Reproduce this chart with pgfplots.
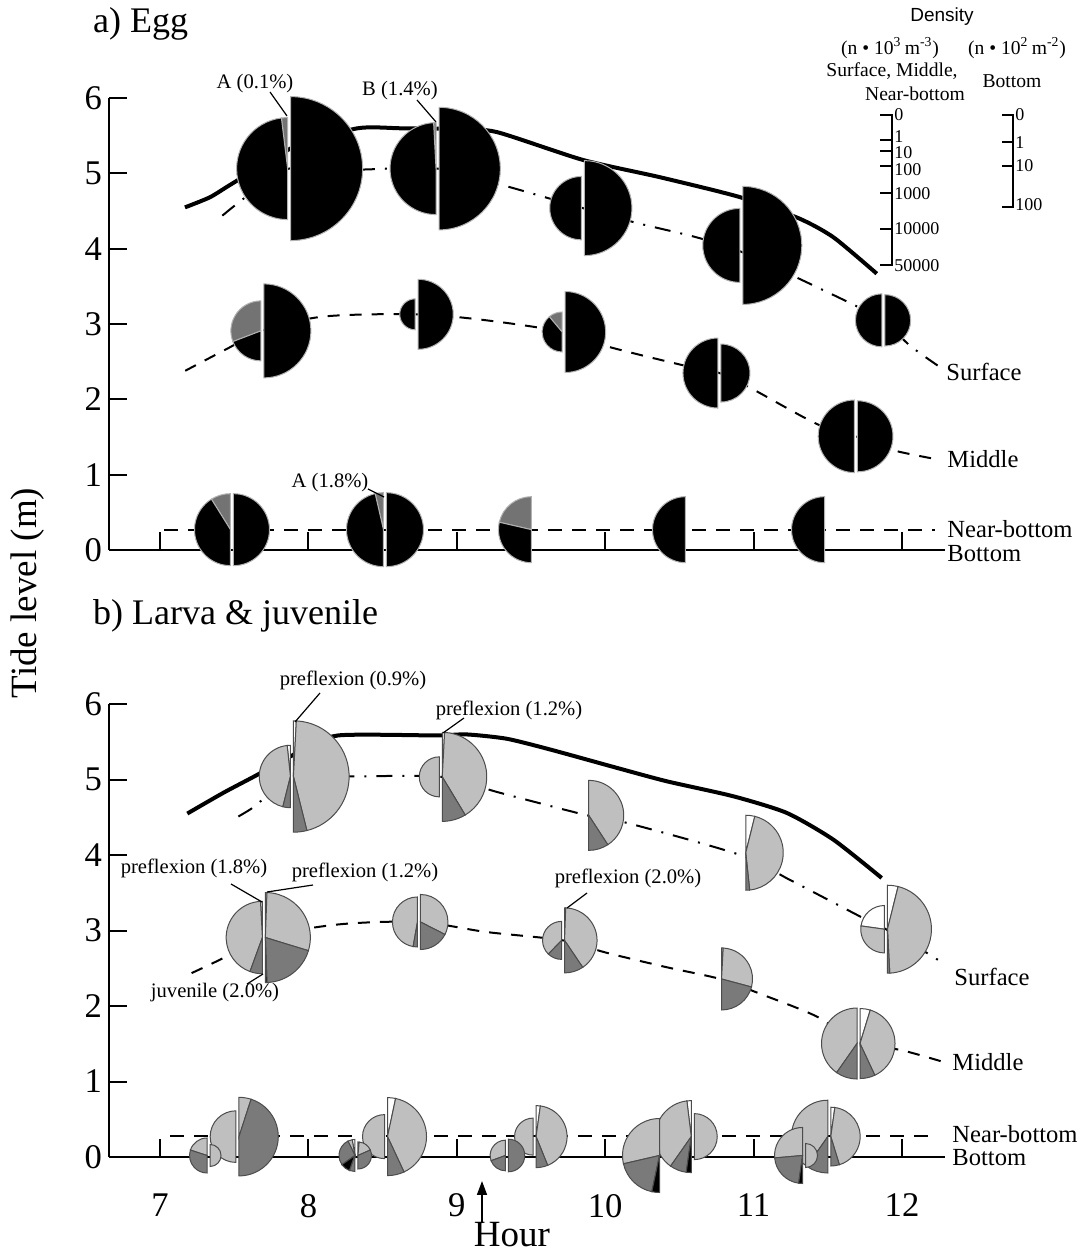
\documentclass[border=0pt]{standalone}
\usepackage{fontspec}
\setmainfont{Liberation Serif}
\newfontfamily\sansf{Liberation Sans}
\usepackage{pgfplots}
\pgfplotsset{compat=1.18}
\usetikzlibrary{arrows.meta}
\newcommand\fs[1]{\fontsize{#1}{#1}\selectfont}
\pgfplotsset{
 panel/.style={
  scale only axis, width=418pt, axis lines*=left,
  xmin=6.6563, xmax=12.2898, ymin=0, ymax=6,
  xtick={7,...,12}, ytick={0,...,6}, tick align=inside, major tick length=9pt,
  axis line style={line width=1pt}, every tick/.style={line width=1pt, black},
  clip=false, tick label style={font=\fs{17.3}},
  /pgf/number format/assume math mode=true, anchor=south west,
 },
 pies/.style={
  scatter, only marks, mark=*, mark size=0pt,
  mark options={draw opacity=0, fill opacity=0},
  point meta=y,
  visualization depends on={value \thisrow{r} \as \wR},
  visualization depends on={value \thisrow{a} \as \wA},
  visualization depends on={value \thisrow{b} \as \wB},
  visualization depends on={value \thisrow{g} \as \wG},
  visualization depends on={value \thisrow{s} \as \wS},
  scatter/@pre marker code/.append code={%
    \pgfmathsetmacro\myR{0.5*\wR}%
    \pgfmathsetmacro\myS{0.75*\wS}%
    \filldraw[fill=black!\wG, draw=#1, line width=0.5pt, fill opacity=1, draw opacity=1] (\myS pt,0pt) -- ++(\wA:\myR pt) arc[start angle=\wA, end angle=\wB, radius=\myR pt] -- cycle;
  },
 },
 tide/.style={line width=2pt, smooth, tension=0.4},
 surf/.style={line width=1pt, smooth, tension=0.5, dash pattern=on 8pt off 5pt on 1pt off 5pt},
 midl/.style={line width=1pt, smooth, tension=0.5, dash pattern=on 6pt off 5pt},
 nbot/.style={line width=1pt, dash pattern=on 7pt off 5pt},
}
\begin{document}
\begin{tikzpicture}
\useasboundingbox (0,0) rectangle (540.5pt,629.5pt);
% ---------------- panel a ----------------
\begin{axis}[panel, height=225.9pt, at={(54.5pt,354.5pt)}, xticklabels={}]
\addplot[tide] coordinates {(7.168,4.55)(7.337,4.685)(7.49,4.87)(7.9,5.35)(8.33,5.60)(8.63,5.60)(9.0,5.59)(9.27,5.55)(9.85,5.18)(10.37,4.95)(10.91,4.685)(11.31,4.40)(11.54,4.15)(11.83,3.67)};
\addplot[surf] coordinates {(7.42,4.44)(7.6,4.72)(7.87,5.065)(8.3,5.05)(8.87,5.065)(9.3,4.85)(9.85,4.54)(10.22,4.34)(10.62,4.15)(10.917,3.96)(11.31,3.6)(11.66,3.27)(11.875,3.05)(12.05,2.72)(12.24,2.45)};
\addplot[midl] coordinates {(7.17,2.38)(7.45,2.67)(7.69,2.91)(8.1,3.1)(8.73,3.13)(9.2,3.05)(9.72,2.895)(10.02,2.70)(10.51,2.46)(10.77,2.35)(10.99,2.14)(11.43,1.67)(11.69,1.51)(11.93,1.33)(12.22,1.21)};
\addplot[nbot] coordinates {(7.03,0.26)(12.22,0.26)};
\addplot[pies=black!30] table {
x y r a b g s
7.87 5.065 51 90 97 55 -1
7.87 5.065 51 97 270 100 -1
7.87 5.065 72 90 -90 100 1
8.87 5.065 46 90 93 55 -1
8.87 5.065 46 93 270 100 -1
8.87 5.065 61.3 90 -90 100 1
9.85 4.54 31.7 90 270 100 -1
9.85 4.54 47.5 90 -90 100 1
10.917 4.045 37 90 270 100 -1
10.917 4.045 59 90 -90 100 1
11.875 3.05 26.5 90 270 100 -1
11.875 3.05 25.7 90 -90 100 1
7.69 2.91 30 90 201 55 -1
7.69 2.91 30 201 270 100 -1
7.69 2.91 47 90 -90 100 1
8.73 3.13 15.5 90 270 100 -1
8.73 3.13 35 90 -90 100 1
9.72 2.895 20 90 130 55 -1
9.72 2.895 20 130 270 100 -1
9.72 2.895 40.5 90 -90 100 1
10.77 2.35 35 90 270 100 -1
10.77 2.35 29 90 -90 100 1
11.69 1.51 36.3 90 270 100 -1
11.69 1.51 35.5 90 -90 100 1
7.485 0.27 36 90 122 55 -1
7.485 0.27 36 122 270 100 -1
7.485 0.27 36 90 -90 100 1
8.516 0.27 37 90 103 55 -1
8.516 0.27 37 103 270 100 -1
8.516 0.27 37 90 -90 100 1
9.513 0.27 33 90 167 55 -1
9.513 0.27 33 167 270 100 -1
10.551 0.27 33 90 270 100 -1
11.488 0.27 33 90 270 100 -1
};
\end{axis}
% ---------------- panel b ----------------
\begin{axis}[panel, height=226.5pt, at={(54.5pt,51pt)}, xticklabel shift=15pt]
\addplot[tide] coordinates {(7.184,4.549)(7.427,4.824)(7.647,5.053)(7.95,5.38)(8.201,5.584)(8.86,5.584)(9.067,5.597)(9.336,5.540)(9.628,5.398)(10.077,5.155)(10.414,4.977)(10.863,4.778)(11.223,4.558)(11.537,4.204)(11.863,3.696)};
\addplot[surf] coordinates {(7.528,4.51)(7.62,4.62)(7.72,4.78)(7.889,5.04)(8.3,5.04)(8.892,5.035)(9.291,4.824)(9.879,4.525)(10.145,4.426)(10.909,4.0)(11.245,3.67)(11.739,3.164)(11.892,3.017)(12.177,2.692)(12.28,2.56)};
\addplot[midl] coordinates {(7.213,2.436)(7.404,2.613)(7.70,2.907)(8.2,3.08)(8.745,3.113)(9.2,2.98)(9.716,2.869)(10.0,2.71)(10.4,2.52)(10.774,2.358)(11.032,2.171)(11.425,1.861)(11.707,1.503)(11.987,1.419)(12.27,1.264)};
\addplot[nbot] coordinates {(7.067,0.28)(12.22,0.28)};
\addplot[pies=black!70] table {
x y r a b g s
7.889 5.04 31.2 90 96 0 -1
7.889 5.04 31.2 96 256 25 -1
7.889 5.04 31.2 256 270 52 -1
7.889 5.04 55.7 90 87 0 1
7.889 5.04 55.7 87 -76 25 1
7.889 5.04 55.7 -76 -90 52 1
8.892 5.035 20 90 270 25 -1
8.892 5.035 44.5 90 87 0 1
8.892 5.035 44.5 87 -59 25 1
8.892 5.035 44.5 -59 -90 52 1
9.879 4.525 35 90 -57 25 1
9.879 4.525 35 -57 -90 52 1
10.937 4.03 37.5 90 76 0 1
10.937 4.03 37.5 76 -84 25 1
10.937 4.03 37.5 -84 -90 52 1
11.892 3.017 23.7 90 172 0 -1
11.892 3.017 23.7 172 270 25 -1
11.892 3.017 44 90 76 0 1
11.892 3.017 44 76 -87 25 1
11.892 3.017 44 -87 -90 52 1
7.70 2.907 36.2 90 93 0 -1
7.70 2.907 36.2 93 250 25 -1
7.70 2.907 36.2 250 270 52 -1
7.70 2.907 45 90 88 0 1
7.70 2.907 45 88 -17 25 1
7.70 2.907 45 -17 -88 52 1
7.70 2.907 45 -88 -90 100 1
8.745 3.113 25 90 260 25 -1
8.745 3.113 25 260 270 52 -1
8.745 3.113 27.5 90 -27 25 1
8.745 3.113 27.5 -27 -90 52 1
9.716 2.869 19 90 226 25 -1
9.716 2.869 19 226 270 52 -1
9.716 2.869 32.5 90 88 0 1
9.716 2.869 32.5 88 -56 25 1
9.716 2.869 32.5 -56 -90 52 1
10.774 2.358 31 90 87 0 1
10.774 2.358 31 87 -15 25 1
10.774 2.358 31 -15 -90 52 1
11.707 1.503 35.5 90 235 25 -1
11.707 1.503 35.5 235 270 52 -1
11.707 1.503 35 90 73 0 1
11.707 1.503 35 73 -65 25 1
11.707 1.503 35 -65 -90 52 1
7.522 0.27 25.8 90 270 25 -1
7.522 0.27 39.3 90 72 25 1
7.522 0.27 39.3 72 -90 52 1
8.523 0.27 22 90 270 25 -1
8.523 0.27 39 90 78 0 1
8.523 0.27 39 78 -65 25 1
8.523 0.27 39 -65 -90 52 1
9.524 0.27 18.5 90 270 25 -1
9.524 0.27 31 90 82 0 1
9.524 0.27 31 82 -68 25 1
9.524 0.27 31 -68 -90 52 1
10.59 0.27 36 90 97 0 -1
10.59 0.27 36 97 235 25 -1
10.59 0.27 36 235 262 52 -1
10.59 0.27 36 262 270 100 -1
10.59 0.27 23 90 -90 25 1
11.51 0.27 36.4 90 235 25 -1
11.51 0.27 36.4 235 270 52 -1
11.51 0.27 29.4 90 82 0 1
11.51 0.27 29.4 82 -73 25 1
11.51 0.27 29.4 -73 -90 52 1
7.327 0.02 17.5 90 162 25 -1
7.327 0.02 17.5 162 270 52 -1
7.327 0.02 11 90 -90 25 1
8.324 0.02 16 90 100 0 -1
8.324 0.02 16 100 116 25 -1
8.324 0.02 16 116 215 52 -1
8.324 0.02 16 215 250 100 -1
8.324 0.02 16 250 270 52 -1
8.324 0.02 13.5 90 85 0 1
8.324 0.02 13.5 85 24 25 1
8.324 0.02 13.5 24 -90 52 1
9.338 0.02 15.3 90 200 25 -1
9.338 0.02 15.3 200 270 52 -1
9.338 0.02 16.3 90 -90 52 1
10.376 0.02 37 90 193 25 -1
10.376 0.02 37 193 258 52 -1
10.376 0.02 37 258 270 100 -1
11.34 0.02 28 90 185 25 -1
11.34 0.02 28 185 262 52 -1
11.34 0.02 28 262 270 100 -1
11.34 0.02 12 90 -90 25 1
};
\end{axis}
% ---------------- annotations in pixel coordinates ----------------
\begin{scope}[x=0.5pt, y=-0.5pt, yshift=629.5pt]
\node[anchor=west, font=\fs{18}] at (86,24) {a) Egg};
\node[anchor=west, font=\fs{18}] at (86,616) {b) Larva \& juvenile};
\node[rotate=90, font=\fs{18.5}] at (28,593) {Tide level (m)};
\node[font=\fs{18.5}] at (512,1235) {Hour};
\draw[line width=0.8pt, -{Triangle[width=5pt,length=7pt]}] (482,1222) -- (482,1181);
% right labels
\begin{scope}[every node/.style={anchor=west, font=\fs{12.3}, inner sep=0.5pt}]
\node at (945,372) {Surface};
\node at (946,459) {Middle};
\node at (946,529) {Near-bottom};
\node at (946,554) {Bottom};
\node at (953,977) {Surface};
\node at (951,1062) {Middle};
\node at (951,1134) {Near-bottom};
\node at (951,1158) {Bottom};
\end{scope}
% annotations
\begin{scope}[every node/.style={font=\fs{10.3}, inner sep=1pt}]
\node at (255,84) {A (0.1\%)}; \draw[line width=0.6pt] (270,92) -- (287,116);
\node at (400,91) {B (1.4\%)}; \draw[line width=0.6pt] (417,100) -- (436,122);
\node at (330,483) {A (1.8\%)}; \draw[line width=0.6pt] (368,489) -- (384,497);
\node at (353,680) {preflexion (0.9\%)}; \draw[line width=0.6pt] (320,693) -- (295,722);
\node at (509,710) {preflexion (1.2\%)}; \draw[line width=0.6pt] (464,718) -- (443,733);
\node at (194,868) {preflexion (1.8\%)}; \draw[line width=0.6pt] (231,884) -- (262,902);
\node at (365,872) {preflexion (1.2\%)}; \draw[line width=0.6pt] (313,885) -- (267,892);
\node at (215,993) {juvenile (2.0\%)}; \draw[line width=0.6pt] (247,984) -- (263,974);
\node at (628,878) {preflexion (2.0\%)}; \draw[line width=0.6pt] (587,893) -- (567,908);
\end{scope}
% density legend
\node[font=\sansf\fs{9.5}] at (942,17) {Density};
\begin{scope}[every node/.style={font=\fs{9.8}, inner sep=1pt}]
\node at (890,48) {(n \textbullet\ 10\textsuperscript{3}\,m\textsuperscript{-3})};
\node at (1017,48) {(n \textbullet\ 10\textsuperscript{2}\,m\textsuperscript{-2})};
\node at (892,71) {Surface, Middle,};
\node at (915,94) {Near-bottom};
\node at (1012,81) {Bottom};
\end{scope}
\draw[line width=1pt] (880,115) -- (892,115) -- (892,265) -- (880,265);
\foreach \yy in {140,151,166,193,229} {\draw[line width=1pt] (880,\yy) -- (892,\yy);}
\draw[line width=1pt] (1002,115) -- (1013,115) -- (1013,207) -- (1002,207);
\foreach \yy in {142,166} {\draw[line width=1pt] (1002,\yy) -- (1013,\yy);}
\begin{scope}[every node/.style={font=\fs{9}, inner sep=0.5pt, anchor=west}]
\node at (893,115) {0}; \node at (893,137) {1}; \node at (893,153) {10}; \node at (893,170) {100};
\node at (893,194) {1000}; \node at (893,229) {10000}; \node at (893,266) {50000};
\node at (1014,115) {0}; \node at (1014,143) {1}; \node at (1014,166) {10}; \node at (1014,205) {100};
\end{scope}
\end{scope}
\end{tikzpicture}
\end{document}
